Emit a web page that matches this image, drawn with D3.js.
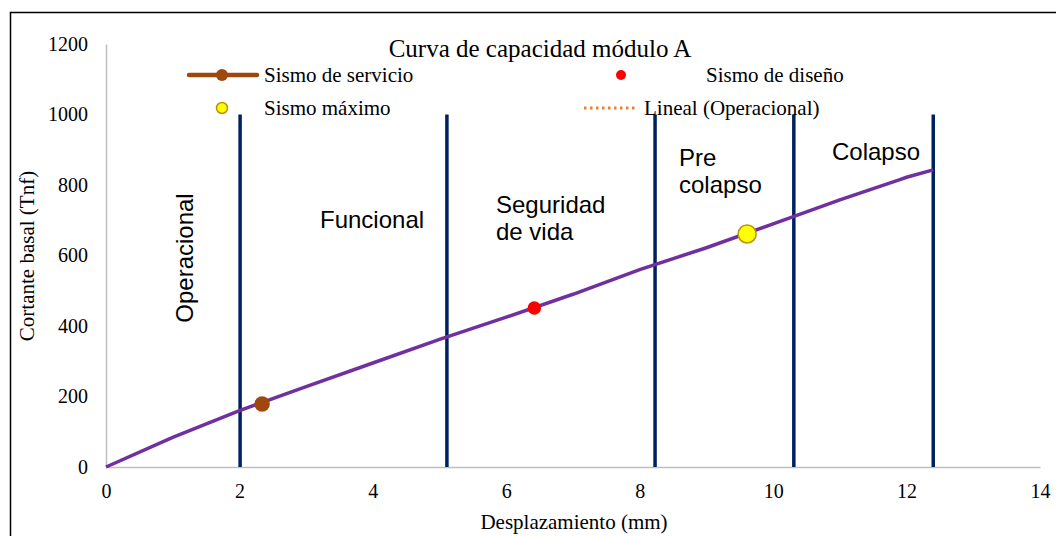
<!DOCTYPE html>
<html>
<head>
<meta charset="utf-8">
<script src="https://cdn.jsdelivr.net/npm/d3@7"></script>
<style>
  body { margin: 0; background: #fff; }
  svg { display: block; }
</style>
</head>
<body>
<svg id="chart" width="1056" height="536"></svg>
<script>
// capacity curve (desplazamiento mm, cortante Tnf)
const curveX = [0, 1, 2, 3, 4, 5, 6, 7, 8, 9, 10, 11, 11.9, 12, 12.4];
const curveY = [0, 84, 160, 228, 295, 362, 425, 490, 560, 622, 690, 758, 815, 822, 843];

// limit-state boundaries
const zoneX = [2.01, 5.11, 8.23, 10.31, 12.4];
const zoneTop = 1000;

// performance points
const pointNames = ["Sismo de servicio", "Sismo de diseño", "Sismo máximo"];
const pointX = [2.34, 6.42, 9.61];
const pointY = [179, 451, 661];

const xTicks = [0, 2, 4, 6, 8, 10, 12, 14];
const yTicks = [0, 200, 400, 600, 800, 1000, 1200];

const svg = d3.select("#chart");
const serif = "'Liberation Serif', 'Times New Roman', serif";
const sans = "'Liberation Sans', Arial, sans-serif";

// outer frame (runs off the page on right and bottom)
svg.append("rect")
  .attr("x", 10.5).attr("y", 12.5)
  .attr("width", 1100).attr("height", 600)
  .attr("fill", "none").attr("stroke", "#000").attr("stroke-width", 1.5);

let x = d3.scaleLinear().domain([0, 14]).range([106, 1040]);
let y = d3.scaleLinear().domain([0, 1200]).range([467, 44]);

// axes
let yAxis = svg.append("g")
  .attr("transform", "translate(106,0)")
  .call(d3.axisLeft(y).tickValues(yTicks).tickFormat(d3.format("d")).tickSize(0).tickPadding(18));
yAxis.select(".domain").attr("stroke", "#bfbfbf").attr("stroke-width", 1.5);
yAxis.selectAll("text").style("font-family", serif).style("font-size", "20px").attr("fill", "#000");

let xAxis = svg.append("g")
  .attr("transform", "translate(0,467)")
  .call(d3.axisBottom(x).tickValues(xTicks).tickFormat(d3.format("d")).tickSize(0).tickPadding(17));
xAxis.select(".domain").attr("stroke", "#bfbfbf").attr("stroke-width", 1.5);
xAxis.selectAll("text").style("font-family", serif).style("font-size", "20px").attr("fill", "#000");

// vertical zone lines
svg.selectAll(".zone")
  .data(zoneX)
  .enter()
  .append("line")
  .attr("x1", d => x(d)).attr("x2", d => x(d))
  .attr("y1", y(0)).attr("y2", y(zoneTop))
  .attr("stroke", "#002060").attr("stroke-width", 3.5);

// capacity curve
let curveData = curveX.map((d, i) => ({x: d, y: curveY[i]}));
let lineFunc = d3.line().x(d => x(d.x)).y(d => y(d.y));
svg.append("path")
  .attr("d", lineFunc(curveData))
  .attr("fill", "none")
  .attr("stroke", "#7030a0")
  .attr("stroke-width", 3.5);

// points
const pointFill = ["#9e480e", "#ff0000", "#ffff00"];
const pointStroke = ["#9e480e", "#ff0000", "#bf9000"];
const pointR = [7, 6, 9];
svg.selectAll(".pt")
  .data(pointX)
  .enter()
  .append("circle")
  .attr("cx", d => x(d))
  .attr("cy", (d, i) => y(pointY[i]))
  .attr("r", (d, i) => pointR[i])
  .attr("fill", (d, i) => pointFill[i])
  .attr("stroke", (d, i) => pointStroke[i])
  .attr("stroke-width", 1.5);

// zone labels
function label(txt, lx, ly) {
  svg.append("text").text(txt)
    .attr("x", lx).attr("y", ly)
    .style("font-family", sans).style("font-size", "24px").attr("fill", "#000");
}
svg.append("text").text("Operacional")
  .attr("transform", "translate(193,258) rotate(-90)")
  .attr("text-anchor", "middle")
  .style("font-family", sans).style("font-size", "24px").attr("fill", "#000");
label("Funcional", 320, 228);
label("Seguridad", 496, 213);
label("de vida", 496, 240);
label("Pre", 679, 166);
label("colapso", 679, 193);
label("Colapso", 832, 160);

// title
svg.append("text").text("Curva de capacidad módulo A")
  .attr("x", 540).attr("y", 57)
  .attr("text-anchor", "middle")
  .style("font-family", serif).style("font-size", "25px").attr("fill", "#000");

// legend
function legText(txt, lx, ly) {
  svg.append("text").text(txt)
    .attr("x", lx).attr("y", ly)
    .style("font-family", serif).style("font-size", "21px").attr("fill", "#000");
}
svg.append("line").attr("x1", 189).attr("x2", 257).attr("y1", 75).attr("y2", 75)
  .attr("stroke", "#9e480e").attr("stroke-width", 4.5).attr("stroke-linecap", "round");
svg.append("circle").attr("cx", 222).attr("cy", 75).attr("r", 6).attr("fill", "#9e480e");
legText(pointNames[0], 264, 82);

svg.append("circle").attr("cx", 621).attr("cy", 75).attr("r", 5).attr("fill", "#ff0000");
legText(pointNames[1], 706, 82);

svg.append("circle").attr("cx", 222).attr("cy", 108).attr("r", 5.5)
  .attr("fill", "#ffff00").attr("stroke", "#bf9000").attr("stroke-width", 1.5);
legText(pointNames[2], 264, 115);

svg.append("line").attr("x1", 584).attr("x2", 638).attr("y1", 108).attr("y2", 108)
  .attr("stroke", "#ed7d31").attr("stroke-width", 3).attr("stroke-dasharray", "2.5,3.5");
legText("Lineal (Operacional)", 644, 115);

// axis titles
svg.append("text").text("Desplazamiento (mm)")
  .attr("x", 574).attr("y", 529)
  .attr("text-anchor", "middle")
  .style("font-family", serif).style("font-size", "21px").attr("fill", "#000");
svg.append("text").text("Cortante basal (Tnf)")
  .attr("transform", "translate(34,256) rotate(-90)")
  .attr("text-anchor", "middle")
  .style("font-family", serif).style("font-size", "21px").attr("fill", "#000");
</script>
</body>
</html>
